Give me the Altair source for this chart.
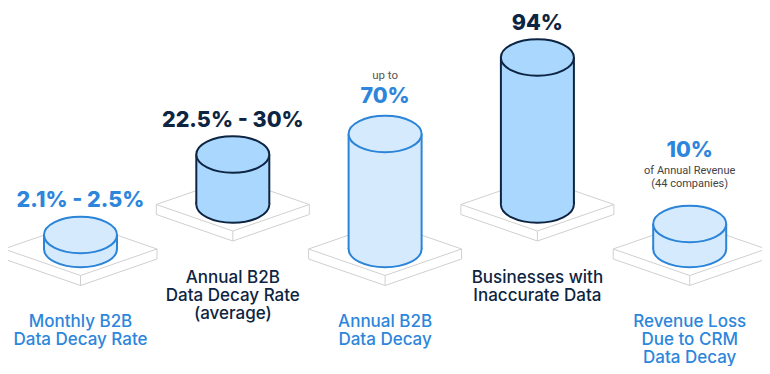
import altair as alt
import pandas as pd

# ---- data ----
categories = [
    "Monthly B2B\nData Decay Rate",
    "Annual B2B\nData Decay Rate\n(average)",
    "Annual B2B\nData Decay",
    "Businesses with\nInaccurate Data",
    "Revenue Loss\nDue to CRM\nData Decay",
]
value_labels = ["2.1% - 2.5%", "22.5% - 30%", "70%", "94%", "10%"]
prefix_labels = ["", "", "up to", "", ""]
note_labels = ["", "", "", "", "of Annual Revenue\n(44 companies)"]
column_heights = [14, 50, 115, 147, 25]   # visual column level of each cylinder

# ---- layout (code, not data) ----
X0, STEP = 80.5, 152.3
BASE_LOW, BASE_HIGH = 249, 204.5
RX, RY = 36.5, 18
HW, HH, TH = 76.5, 26.5, 10
LINE_H = 18.2

ELLIPSE = "M-1,0A1,0.5,0,1,0,1,0A1,0.5,0,1,0,-1,0Z"
THEMES = ["light", "dark"]

rows, plat_area, plat_top, plat_edges = [], [], [], []
for i, cat in enumerate(categories):
    cx = X0 + STEP * i
    theme = "dark" if i % 2 else "light"
    base = BASE_HIGH if i % 2 else BASE_LOW
    h = column_heights[i]
    top_c = base - h
    top_edge = top_c - RY
    notes = note_labels[i]
    n_notes = len(notes.split("\n")) if notes else 0
    if n_notes:
        note_y = top_edge - 19 - 13 * (n_notes - 1)
        value_y = note_y - 17
    else:
        note_y = 0
        value_y = top_edge - 10 - (3.5 if prefix_labels[i] else 0)
    rows.append(dict(cat=cat, theme=theme, cx=cx, xl=cx - RX, xr=cx + RX,
                     base=base, top=top_c, value=value_labels[i],
                     value_y=value_y, prefix=prefix_labels[i],
                     prefix_y=value_y - 24, note=notes, note_y=note_y,
                     label_y=base + HH + TH + 41.5))
    for k, (x, y, y2) in enumerate([(cx - HW, base, base + TH),
                                    (cx, base - HH, base + HH + TH),
                                    (cx + HW, base, base + TH)]):
        plat_area.append(dict(pid=i, k=k, x=x, y=y, y2=y2))
    for k, (x, y, y2) in enumerate([(cx - HW, base, base),
                                    (cx, base - HH, base + HH),
                                    (cx + HW, base, base)]):
        plat_top.append(dict(pid=i, k=k, x=x, y=y, y2=y2))
    edges = {
        "top": [(cx - HW, base), (cx, base - HH), (cx + HW, base), (cx, base + HH), (cx - HW, base)],
        "bottom": [(cx - HW, base), (cx - HW, base + TH), (cx, base + HH + TH),
                   (cx + HW, base + TH), (cx + HW, base)],
        "front": [(cx, base + HH), (cx, base + HH + TH)],
    }
    for name, pts in edges.items():
        for k, (x, y) in enumerate(pts):
            plat_edges.append(dict(eid=f"{i}-{name}", k=k, x=x, y=y))

df = pd.DataFrame(rows)
side = pd.concat([df.assign(xs=df.xl), df.assign(xs=df.xr)])
pa, pt, pe = pd.DataFrame(plat_area), pd.DataFrame(plat_top), pd.DataFrame(plat_edges)

xs = alt.Scale(domain=[8, 762], nice=False, zero=False)
ys = alt.Scale(domain=[366, 8], nice=False, zero=False)
X = lambda f: alt.X(f, type="quantitative", scale=xs, axis=None)
Y = lambda f: alt.Y(f, type="quantitative", scale=ys, axis=None)
fill_c = alt.Fill("theme:N", scale=alt.Scale(domain=THEMES, range=["#d5ebfd", "#a9d7fd"]), legend=None)
stroke_c = alt.Stroke("theme:N", scale=alt.Scale(domain=THEMES, range=["#2b84d8", "#0d2442"]), legend=None)
text_c = alt.Color("theme:N", scale=alt.Scale(domain=THEMES, range=["#2d86db", "#0d2442"]), legend=None)

plat_fill = alt.Chart(pa).mark_area(color="#f0f0f0", interpolate="linear").encode(
    x=X("x"), y=Y("y"), y2="y2", detail="pid:N", order="k:Q")
plat_face = alt.Chart(pt).mark_area(color="#fafafa", interpolate="linear").encode(
    x=X("x"), y=Y("y"), y2="y2", detail="pid:N", order="k:Q")
plat_line = alt.Chart(pe).mark_line(color="#d0d0d0", strokeWidth=1).encode(
    x=X("x"), y=Y("y"), detail="eid:N", order="k:Q")

base_ell = alt.Chart(df).mark_point(shape=ELLIPSE, size=(2 * RX) ** 2, filled=True,
                                    strokeWidth=2, opacity=1).encode(
    x=X("cx"), y=Y("base"), fill=fill_c, stroke=stroke_c)
body = alt.Chart(df).mark_rect(strokeWidth=0).encode(
    x=X("xl"), x2="xr", y=Y("top"), y2="base", fill=fill_c)
sides = alt.Chart(side).mark_rule(strokeWidth=2).encode(
    x=X("xs"), y=Y("top"), y2="base", stroke=stroke_c)
top_ell = alt.Chart(df).mark_point(shape=ELLIPSE, size=(2 * RX) ** 2, filled=True,
                                   strokeWidth=2, opacity=1).encode(
    x=X("cx"), y=Y("top"), fill=fill_c, stroke=stroke_c)

values = alt.Chart(df).mark_text(font="Inter", fontWeight=800, fontSize=21.5,
                                 baseline="alphabetic", align="center").encode(
    x=X("cx"), y=Y("value_y"), text="value:N", color=text_c)
prefix = alt.Chart(df[df.prefix != ""]).mark_text(font="Roboto", fontSize=11.5, color="#555555",
                                                  baseline="alphabetic", align="center").encode(
    x=X("cx"), y=Y("prefix_y"), text="prefix:N")
notes = alt.Chart(df[df.note != ""]).mark_text(font="Roboto", fontSize=11, color="#444444",
                                               baseline="alphabetic", align="center",
                                               lineBreak="\n", lineHeight=13).encode(
    x=X("cx"), y=Y("note_y"), text="note:N")
labels = alt.Chart(df).mark_text(font="Inter", fontWeight=500, fontSize=17,
                                 baseline="alphabetic", align="center",
                                 lineBreak="\n", lineHeight=LINE_H).encode(
    x=X("cx"), y=Y("label_y"), text="cat:N", color=text_c)

chart = alt.layer(plat_fill, plat_face, plat_line, base_ell, body, sides, top_ell,
                  values, prefix, notes, labels).properties(
    width=754, height=358, padding=0,
    autosize=alt.AutoSizeParams(type="none"),
    background="white",
).configure_view(stroke=None)

chart.save("out.html", embed_options={"renderer": "svg", "actions": False})
